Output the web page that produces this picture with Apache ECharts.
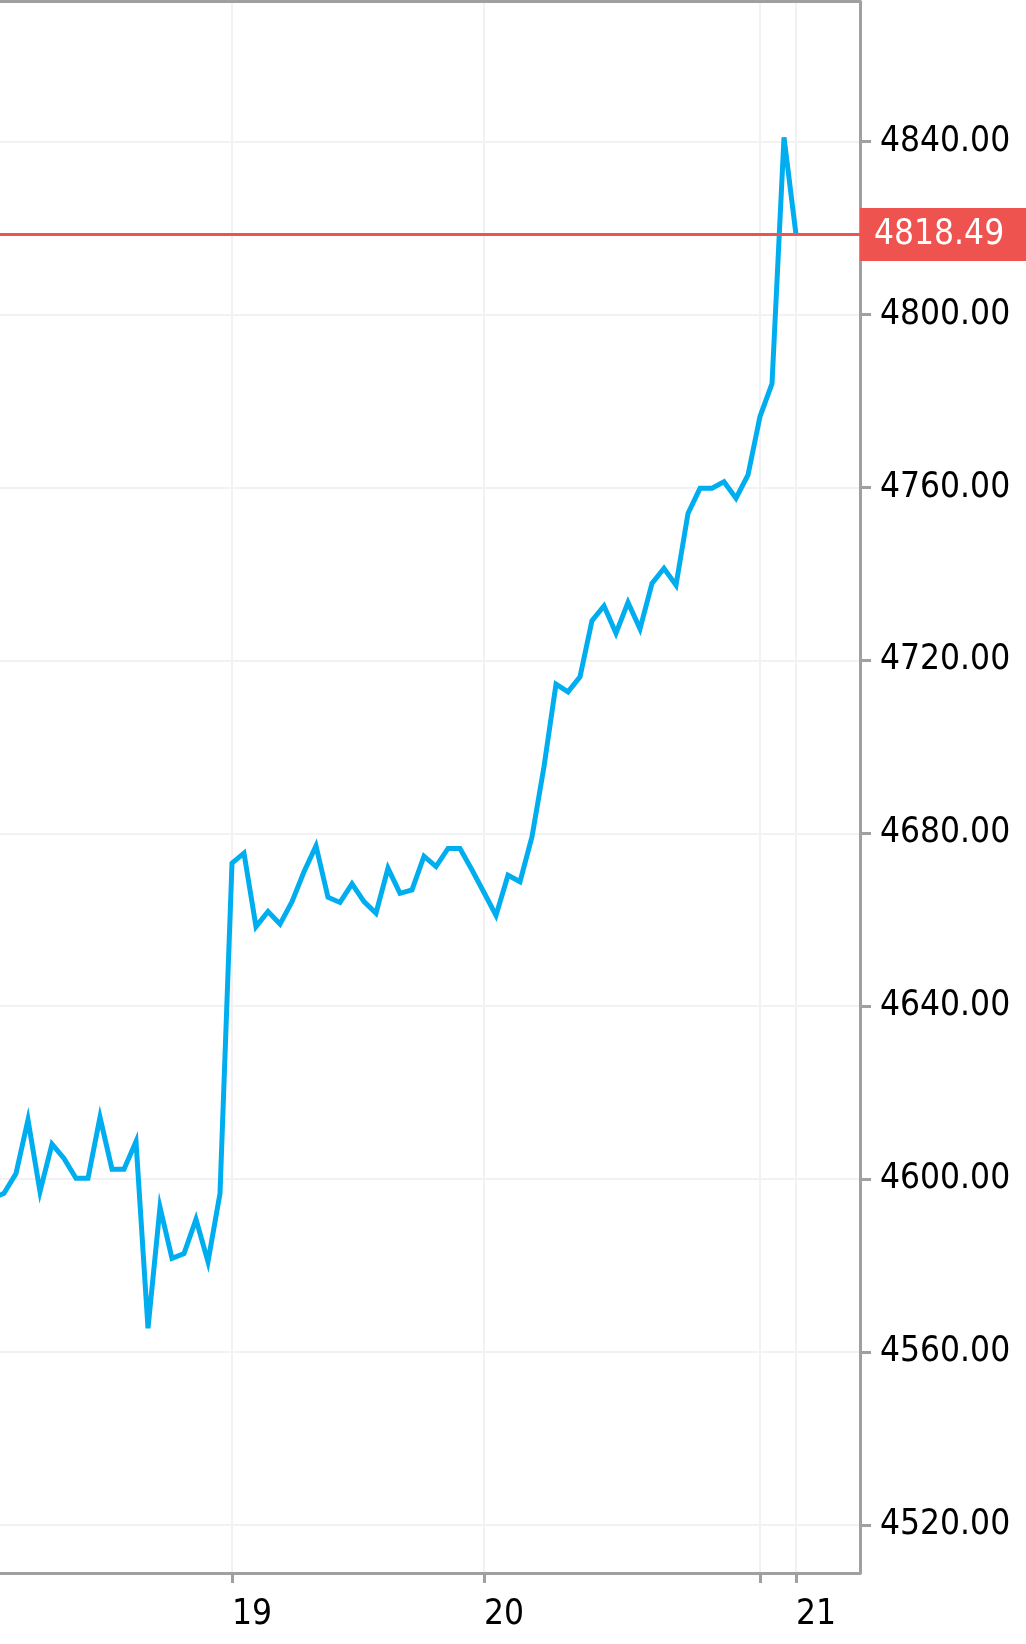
<!DOCTYPE html>
<html>
<head>
<meta charset="utf-8">
<title>Price chart</title>
<script src="https://cdn.jsdelivr.net/npm/echarts@6/dist/echarts.min.js"></script>
<style>
  html, body { margin: 0; padding: 0; background: #fff; }
  #chart { width: 1026px; height: 1644px; }
</style>
</head>
<body>
<div id="chart"></div>
<script>
// closing price of each bar, bar index = x position
var prices = [
  4595.5, 4596.7, 4601.3, 4613.7, 4597.1, 4608.1, 4604.8, 4600.2, 4600.2, 4614.3,
  4602.3, 4602.3, 4608.7, 4565.5, 4593.5, 4581.7, 4582.8, 4590.7, 4580.9, 4596.7,
  4673.1, 4675.4, 4658.4, 4661.9, 4659.0, 4664.2, 4671.1, 4677.1, 4665.2, 4664.0,
  4668.3, 4664.2, 4661.5, 4671.9, 4666.1, 4666.9, 4674.7, 4672.3, 4676.5, 4676.5,
  4671.5, 4666.3, 4661.0, 4670.3, 4668.8, 4679.2, 4695.4, 4714.5, 4712.7, 4716.2,
  4729.2, 4732.6, 4726.3, 4733.4, 4727.3, 4737.8, 4741.3, 4737.4, 4754.0, 4759.8,
  4759.8, 4761.3, 4757.5, 4762.9, 4776.4, 4784.0, 4841.0, 4818.49
]
var lastPrice = 4818.49

// day separators on the time axis (bar index) and their labels
var dayTicks = [20, 41, 64, 67]
var dayLabels = ['19', '20', '', '21']

// price axis ticks
var priceTicks = [4520, 4560, 4600, 4640, 4680, 4720, 4760, 4800, 4840]

var axisGray = '#a0a0a0'
var gridGray = '#f2f2f5'
var font = '"DejaVu Sans Condensed", "DejaVu Sans", sans-serif'

var chart = echarts.init(document.getElementById('chart'))

var option = {
  animation: false,
  backgroundColor: '#fff',
  grid: {
    left: 0,
    top: 1.5,
    right: 166,
    bottom: 71
  },
  xAxis: [
    {
      type: 'value',
      min: 0.667,
      max: 72.333,
      axisLine: { show: true, onZero: false, lineStyle: { color: axisGray, width: 3 } },
      axisTick: {
        show: true,
        length: 10,
        customValues: dayTicks,
        lineStyle: { color: axisGray, width: 3 }
      },
      splitLine: { show: true, lineStyle: { color: gridGray, width: 2 } },
      axisLabel: {
        customValues: dayTicks.filter(function (d, i) { return dayLabels[i] !== '' }),
        formatter: function (v) {
          return dayLabels[dayTicks.indexOf(Math.round(v))] || ''
        },
        align: 'left',
        margin: 24,
        color: '#000',
        fontFamily: font,
        fontSize: 35
      }
    },
    {
      // top frame line
      type: 'value',
      position: 'top',
      min: 0.667,
      max: 72.333,
      axisLine: { show: true, onZero: false, lineStyle: { color: axisGray, width: 3 } },
      axisTick: { show: false },
      axisLabel: { show: false },
      splitLine: { show: false }
    }
  ],
  yAxis: {
    type: 'value',
    position: 'right',
    min: 4508.89,
    max: 4872.41,
    axisLine: { show: true, onZero: false, lineStyle: { color: axisGray, width: 3 } },
    axisTick: {
      show: true,
      length: 11,
      customValues: priceTicks,
      lineStyle: { color: axisGray, width: 3 }
    },
    splitLine: { show: true, lineStyle: { color: gridGray, width: 2 } },
    axisLabel: {
      customValues: priceTicks,
      formatter: function (v) { return v.toFixed(2) },
      margin: 20,
      padding: [4, 0, 0, 0],
      color: '#000',
      fontFamily: font,
      fontSize: 35
    }
  },
  series: [
    {
      type: 'line',
      data: prices.map(function (p, i) { return [i, p] }),
      showSymbol: false,
      lineStyle: { color: '#00aeef', width: 5, join: 'miter' },
      markLine: {
        silent: true,
        symbol: 'none',
        lineStyle: { color: '#ef5350', width: 3, type: 'solid' },
        label: {
          position: 'end',
          distance: 0,
          formatter: lastPrice.toFixed(2),
          color: '#fff',
          backgroundColor: '#ef5350',
          fontFamily: font,
          fontSize: 35,
          lineHeight: 36,
          padding: [10, 30, 7, 14]
        },
        data: [{ yAxis: lastPrice }]
      }
    }
  ]
}

chart.setOption(option)
</script>
</body>
</html>
